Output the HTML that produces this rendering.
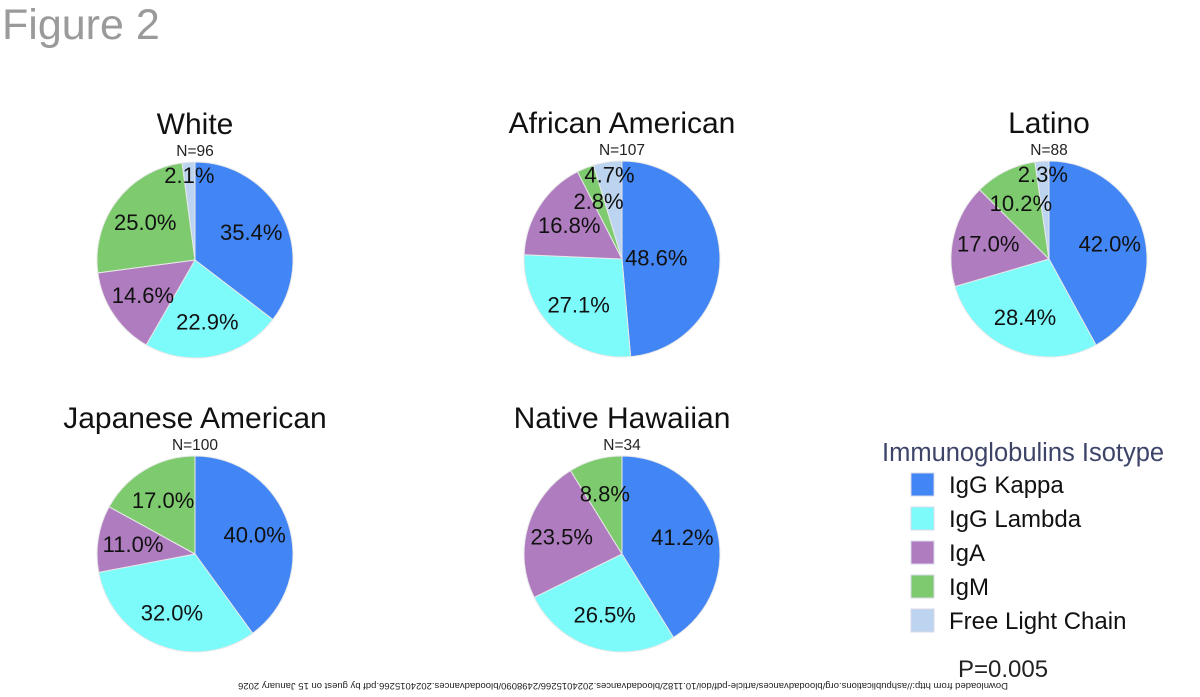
<!DOCTYPE html>
<html><head><meta charset="utf-8">
<style>
body{margin:0;background:#fff;width:1200px;height:697px;overflow:hidden;position:relative;font-family:"Liberation Sans",Arial,sans-serif}
</style></head>
<body>
<svg id="fig" width="1200" height="697" viewBox="0 0 1200 697" xmlns="http://www.w3.org/2000/svg" style="position:absolute;left:0;top:0">
<text x="2" y="39" font-size="43" fill="#9a9a9a">Figure 2</text>
<g id="pies"></g>
<g>
<text x="882" y="461" font-size="25.5" fill="#3d4468">Immunoglobulins Isotype</text>
<g id="legend-items"></g>
</g>
<text x="958" y="677" font-size="24" fill="#222">P=0.005</text>
<text transform="translate(623,683) rotate(180)" text-anchor="middle" font-size="9.5" fill="#222">Downloaded from http://ashpublications.org/bloodadvances/article-pdf/doi/10.1182/bloodadvances.2024015266/2498090/bloodadvances.2024015266.pdf by guest on 15 January 2026</text>
</svg>
<script>
const categories = ["IgG Kappa","IgG Lambda","IgA","IgM","Free Light Chain"];
const colors = ["#4285f4","#7dfbfb","#b07cc0","#7dcb6e","#bcd4ef"];
const groups = ["White","African American","Latino","Japanese American","Native Hawaiian"];
const counts = [96,107,88,100,34];
const white = [35.4,22.9,14.6,25.0,2.1];
const africanAmerican = [48.6,27.1,16.8,2.8,4.7];
const latino = [42.0,28.4,17.0,10.2,2.3];
const japaneseAmerican = [40.0,32.0,11.0,17.0,0];
const nativeHawaiian = [41.2,26.5,23.5,8.8,0];
const series = [white,africanAmerican,latino,japaneseAmerican,nativeHawaiian];

const NS="http://www.w3.org/2000/svg";
const centers=[[195,260],[622,259],[1049,259],[195,554],[622,554]];
const R=98;
const pies=document.getElementById('pies');
function mk(t,attrs,parent){const e=document.createElementNS(NS,t);for(const k in attrs)e.setAttribute(k,attrs[k]);parent.appendChild(e);return e;}
function pt(cx,cy,r,frac){const a=frac*2*Math.PI;return [cx+r*Math.sin(a),cy-r*Math.cos(a)];}
series.forEach((vals,gi)=>{
  const [cx,cy]=centers[gi];
  const g=mk('g',{},pies);
  
  
  const t=mk('text',{x:cx,y:cy-126,'text-anchor':'middle','font-size':30,fill:'#111'},g);
  t.textContent=groups[gi];
  
  
  const n=mk('text',{x:cx,y:cy-104,'text-anchor':'middle','font-size':15.5,fill:'#222'},g);
  n.textContent='N='+counts[gi];
  
  
  const total=vals.reduce((a,b)=>a+b,0);
  let acc=0;
  const labels=[];
  vals.forEach((v,i)=>{
    if(v<=0)return;
    const f0=acc/total,f1=(acc+v)/total;acc+=v;
    const [x0,y0]=pt(cx,cy,R,f0),[x1,y1]=pt(cx,cy,R,f1);
    const large=(f1-f0)>0.5?1:0;
    const p=mk('path',{d:`M${cx},${cy}L${x0},${y0}A${R},${R} 0 ${large} 1 ${x1},${y1}Z`,fill:colors[i],stroke:'#e8e8e8','stroke-width':1},g);
    
    
    let lr=0.64;
    if(i===4)lr=0.87;
    if(v>45)lr=0.35;
    const [lx,ly]=pt(cx,cy,R*lr,(f0+f1)/2);
    labels.push([lx,ly,v]);
  });
  labels.forEach(([lx,ly,v])=>{
    const l=mk('text',{x:lx,y:ly+8,'text-anchor':'middle','font-size':22,fill:'#111'},g);
    l.textContent=v.toFixed(1)+'%';
    
    
  });
});
const li=document.getElementById('legend-items');
categories.forEach((c,i)=>{
  const y=485+i*34;
  const g=mk('g',{},li);
  
  
  mk('rect',{x:911,y:y-12,width:23,height:23,fill:colors[i],stroke:'#d8d8e8','stroke-width':1},g);
  const t=mk('text',{x:949,y:y+8,'font-size':24,fill:'#111'},g);
  t.textContent=c;
});
</script>
</body></html>
